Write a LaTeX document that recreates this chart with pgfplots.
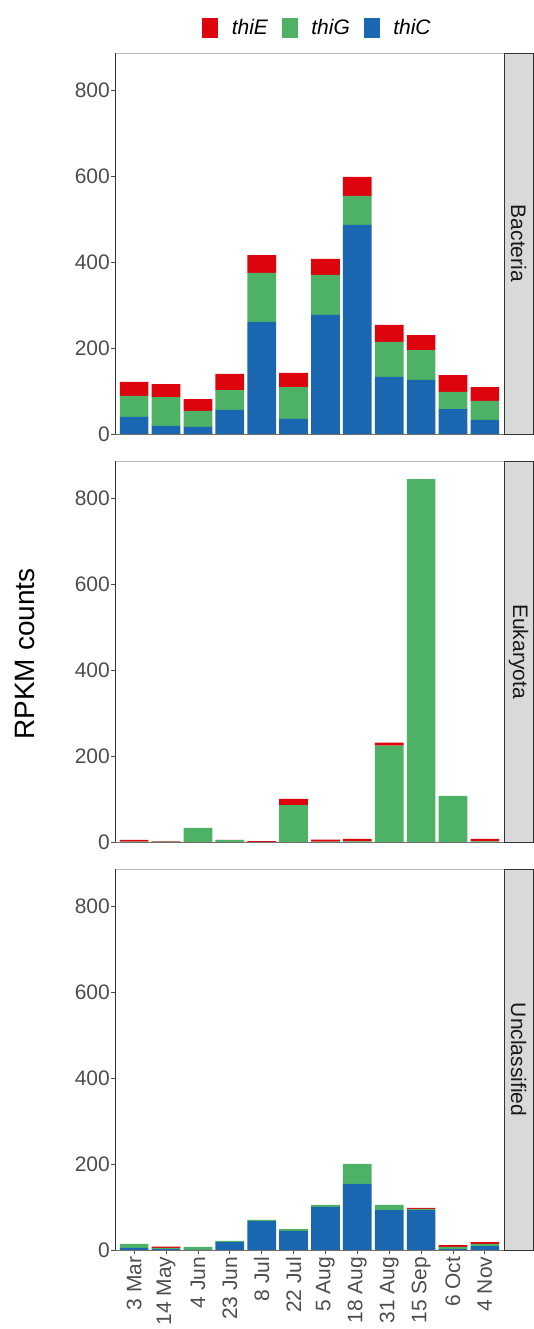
\documentclass[border=0pt]{standalone}
\usepackage{pgfplots}
\pgfplotsset{compat=1.18}
\usepackage{pgfplotstable}
\usetikzlibrary{calc}
\usepackage{fontspec}
\setmainfont{Liberation Sans}
\definecolor{cE}{HTML}{DD040D}
\definecolor{cG}{HTML}{4DB265}
\definecolor{cC}{HTML}{1A66B0}
\definecolor{gray30}{HTML}{4D4D4D}
\definecolor{gray20}{HTML}{333333}
\definecolor{stripgray}{HTML}{D9D9D9}

\pgfplotstableread{
x C G E
1 39.5 48.9 32.6
2 18.6 67.4 30
3 16.3 37.2 27.5
4 55.8 46.2 37.6
5 260.5 114 41.5
6 35 74 33
7 277 93 37
8 486 67.6 44.4
9 132.6 81.4 39.5
10 125.6 69.4 35
11 58 39.7 39.3
12 32.6 44.2 32.2
}\bact

\pgfplotstableread{
x C G E
1 0 1 4
2 0.5 0.5 1
3 0 32.6 0
4 0 4.5 0.5
5 0 0.5 1.5
6 0 86 14
7 0 1 4.4
8 0 1.5 6
9 0 224 7
10 0 844 0
11 0 107 0
12 0 1.5 6
}\euk

\pgfplotstableread{
x C G E
1 4.7 9.3 0
2 2.3 2.4 3.1
3 0.5 6.5 0
4 18.6 2.4 0
5 67.4 2.4 0
6 44.2 4.6 0
7 100 4.7 0
8 153.5 46.5 0
9 93 11.7 0
10 93 2.4 2.3
11 2.3 4.7 4.6
12 9.3 4.7 4.6
}\uncl

\pgfplotsset{
  panel/.style={
    scale only axis, width=389pt, height=381pt,
    xmin=0.4, xmax=12.6, ymin=0, ymax=886,
    ybar stacked, bar width=0.9,
    ytick={0,200,400,600,800}, ytick pos=left,
    tick align=outside, major tick length=4pt,
    tick style={gray30, line width=0.8pt},
    axis line style={draw=none},
    /pgf/number format/assume math mode=true,
    ticklabel style={font=\fontsize{21}{25}\selectfont, text=gray30},
    yticklabel style={inner xsep=1pt},
    anchor=south west,
  },
}

\begin{document}
\begin{tikzpicture}
\useasboundingbox (0pt,0pt) rectangle (534pt,1329pt);

% Bacteria
\begin{axis}[panel, name=ax1, at={(115pt,895pt)}, xtick=\empty,
  legend style={at={(axis description cs:0.5206,1)}, anchor=center, yshift=25pt,
    draw=none, fill=none, legend columns=3,
    font=\itshape\fontsize{21}{25}\selectfont,
    /tikz/every odd column/.append style={column sep=12pt},
    /tikz/every even column/.append style={column sep=12pt}},
  legend entries={thiE,thiG,thiC}]
\addlegendimage{legend image code/.code={\fill[cE] (0pt,-9.5pt) rectangle (15pt,9.5pt);}}
\addlegendimage{legend image code/.code={\fill[cG] (0pt,-9.5pt) rectangle (15pt,9.5pt);}}
\addlegendimage{legend image code/.code={\fill[cC] (0pt,-9.5pt) rectangle (15pt,9.5pt);}}
\addplot[fill=cC, draw=none] table[x=x, y=C] {\bact};
\addplot[fill=cG, draw=none] table[x=x, y=G] {\bact};
\addplot[fill=cE, draw=none] table[x=x, y=E] {\bact};
\end{axis}

% Eukaryota
\begin{axis}[panel, name=ax2, at={(115pt,487pt)}, xtick=\empty]
\addplot[fill=cC, draw=none] table[x=x, y=C] {\euk};
\addplot[fill=cG, draw=none] table[x=x, y=G] {\euk};
\addplot[fill=cE, draw=none] table[x=x, y=E] {\euk};
\end{axis}

% Unclassified
\begin{axis}[panel, name=ax3, at={(115pt,79pt)},
  xtick={1,...,12}, xtick pos=bottom,
  xticklabels={3 Mar,14 May,4 Jun,23 Jun,8 Jul,22 Jul,5 Aug,18 Aug,31 Aug,15 Sep,6 Oct,4 Nov},
  xticklabel style={rotate=90, anchor=east, inner xsep=2.5pt}]
\addplot[fill=cC, draw=none] table[x=x, y=C] {\uncl};
\addplot[fill=cG, draw=none] table[x=x, y=G] {\uncl};
\addplot[fill=cE, draw=none] table[x=x, y=E] {\uncl};
\end{axis}

% frames and strips
\foreach \ax/\lab in {ax1/Bacteria, ax2/Eukaryota, ax3/Unclassified}{
  \draw[gray!55, line width=0.9pt] (\ax.north west) -- (\ax.north east);
  \draw[gray30!80, line width=0.9pt] (\ax.south west) -- (\ax.south east);
  \draw[gray20, line width=1pt] (\ax.south west) -- (\ax.north west);
  \draw[fill=stripgray, draw=gray20, line width=0.9pt] (\ax.south east) rectangle ([xshift=29pt]\ax.north east);
  \node[rotate=-90, font=\fontsize{21}{25}\selectfont, text=black!90] at ($(\ax.south east)!0.5!(\ax.north east)+(14.5pt,0)$) {\lab};
}

\node[rotate=90, font=\fontsize{28}{32}\selectfont] at (25pt,675pt) {RPKM counts};
\end{tikzpicture}
\end{document}
